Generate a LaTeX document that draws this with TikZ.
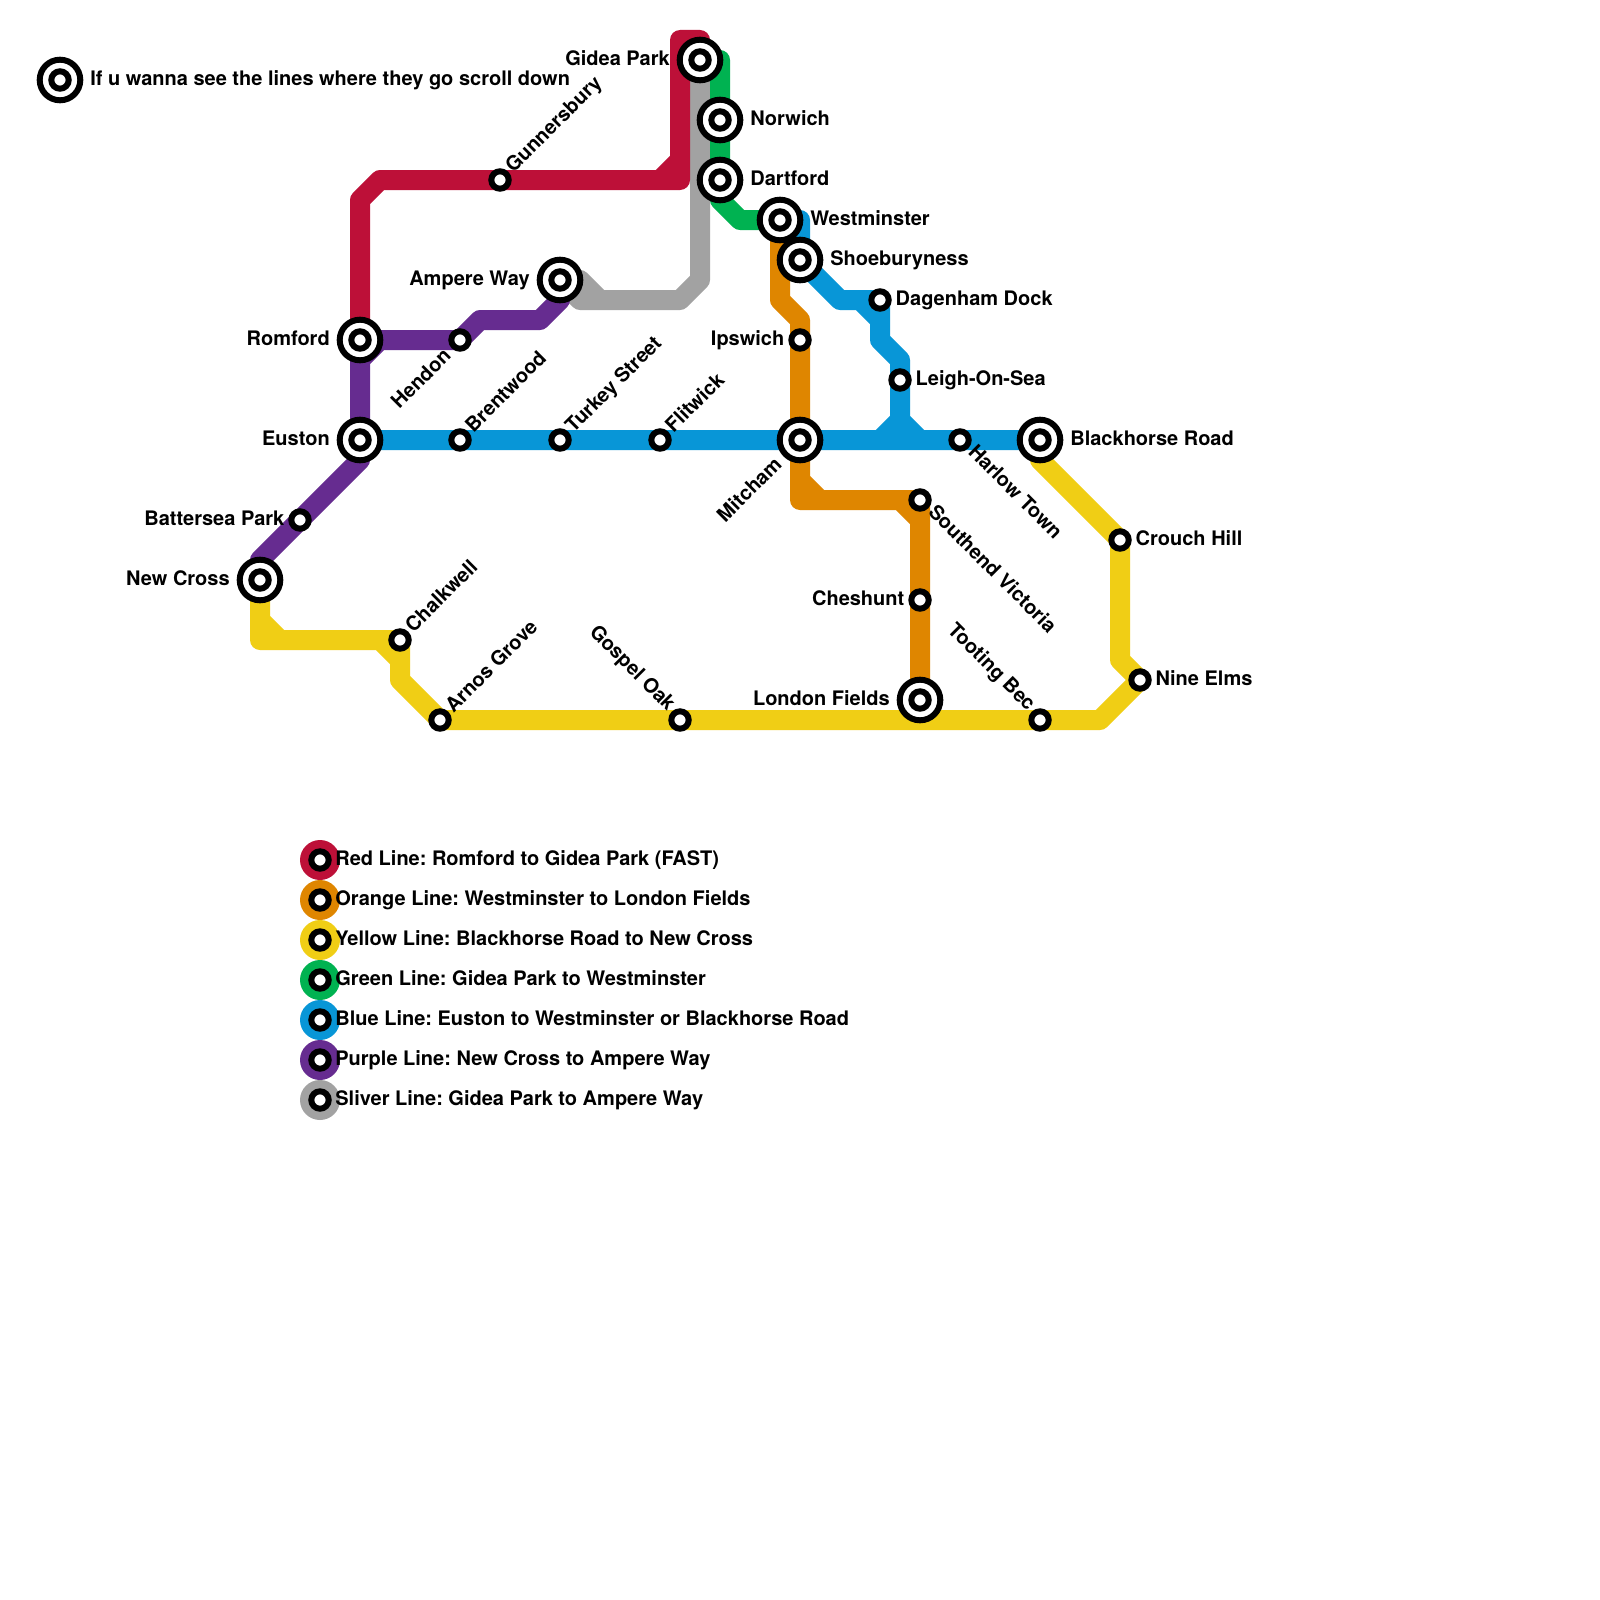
\documentclass[tikz,border=0pt]{standalone}
\usepackage{fontspec}
\setmainfont{TeX Gyre Heros}
\usetikzlibrary{positioning, backgrounds}
\definecolor{lred}{HTML}{BD1038}
\definecolor{lorange}{HTML}{DF8600}
\definecolor{lyellow}{HTML}{F0CE15}
\definecolor{lgreen}{HTML}{00B251}
\definecolor{lblue}{HTML}{0896D7}
\definecolor{lpurple}{HTML}{662C90}
\definecolor{lsilver}{HTML}{A2A2A2}
\tikzset{
node distance=2pt, % gap between a station and its name
metro/.style={line width=10pt, line join=round, line cap=round}, % every line of the map
stop/.style={circle, draw=black, fill=white, line width=3pt, inner sep=0pt, minimum size=8.7pt},
hub/.style={circle, draw=black, fill=white, line width=3pt, inner sep=0pt, minimum size=20.3pt, outer sep=3pt,
  path picture={\draw[line width=3pt, fill=white] (path picture bounding box.center) circle (4.35pt);}},
key/.style={circle, fill=#1, inner sep=0pt, minimum size=20pt,
  path picture={\draw[line width=3pt, fill=white] (path picture bounding box.center) circle (4.35pt);}},
tag/.style={font=\bfseries\frenchspacing, inner sep=0pt, outer sep=0pt, text height=7.8pt, text depth=2.2pt},
tagup/.style={tag, rotate=45, anchor=west, xshift=7.15pt, yshift=0.27pt},
tagdown/.style={tag, rotate=-45, anchor=west, xshift=7.3pt, yshift=0.65pt},
tagupend/.style={tag, rotate=45, anchor=east, xshift=-8.9pt, yshift=-0.52pt},
tagdownend/.style={tag, rotate=-45, anchor=east, xshift=-7.43pt, yshift=1.2pt},
}
\begin{document}
\begin{tikzpicture}[x=10pt, y=-10pt]
    \node[hub] (Key) at (3,4) {};
    \node[hub] (GideaPark) at (35,3) {};
    \node[hub] (Norwich) at (36,6) {};
    \node[hub] (Dartford) at (36,9) {};
    \node[hub] (Westminster) at (39,11) {};
    \node[hub] (Shoeburyness) at (40,13) {};
    \node[hub] (AmpereWay) at (28,14) {};
    \node[hub] (Romford) at (18,17) {};
    \node[hub] (Euston) at (18,22) {};
    \node[hub] (Mitcham) at (40,22) {};
    \node[hub] (Blackhorse) at (52,22) {};
    \node[hub] (NewCross) at (13,29) {};
    \node[hub] (LondonFields) at (46,35) {};
    \node[stop] (Gunnersbury) at (25,9) {};
    \node[stop] (Dagenham) at (44,15) {};
    \node[stop] (Hendon) at (23,17) {};
    \node[stop] (Ipswich) at (40,17) {};
    \node[stop] (Leigh) at (45,19) {};
    \node[stop] (Brentwood) at (23,22) {};
    \node[stop] (Turkey) at (28,22) {};
    \node[stop] (Flitwick) at (33,22) {};
    \node[stop] (Harlow) at (48,22) {};
    \node[stop] (Southend) at (46,25) {};
    \node[stop] (Battersea) at (15,26) {};
    \node[stop] (Crouch) at (56,27) {};
    \node[stop] (Cheshunt) at (46,30) {};
    \node[stop] (Chalkwell) at (20,32) {};
    \node[stop] (NineElms) at (57,34) {};
    \node[stop] (Arnos) at (22,36) {};
    \node[stop] (GospelOak) at (34,36) {};
    \node[stop] (Tooting) at (52,36) {};

    \node[tag, right=of Key] (KeyTag) {If u wanna see the lines where they go scroll down};
    \node[tag, left=of GideaPark] (GideaParkTag) {Gidea Park};
    \node[tag, right=of Norwich] (NorwichTag) {Norwich};
    \node[tag, right=of Dartford] (DartfordTag) {Dartford};
    \node[tag, right=of Westminster] (WestminsterTag) {Westminster};
    \node[tag, right=of Shoeburyness] (ShoeburynessTag) {Shoeburyness};
    \node[tag, left=of AmpereWay] (AmpereWayTag) {Ampere Way};
    \node[tag, left=of Romford] (RomfordTag) {Romford};
    \node[tag, left=of Euston] (EustonTag) {Euston};
    \node[tag, right=of Blackhorse] (BlackhorseTag) {Blackhorse Road};
    \node[tag, left=of NewCross] (NewCrossTag) {New Cross};
    \node[tag, left=of LondonFields] (LondonFieldsTag) {London Fields};
    \node[tag, right=of Dagenham] (DagenhamTag) {Dagenham Dock};
    \node[tag, left=of Ipswich] (IpswichTag) {Ipswich};
    \node[tag, right=of Leigh] (LeighTag) {Leigh-On-Sea};
    \node[tag, left=of Battersea] (BatterseaTag) {Battersea Park};
    \node[tag, right=of Crouch] (CrouchTag) {Crouch Hill};
    \node[tag, left=of Cheshunt] (CheshuntTag) {Cheshunt};
    \node[tag, right=of NineElms] (NineElmsTag) {Nine Elms};
    \node[tagup] (GunnersburyTag) at (Gunnersbury) {Gunnersbury};
    \node[tagup] (BrentwoodTag) at (Brentwood) {Brentwood};
    \node[tagup] (TurkeyTag) at (Turkey) {Turkey Street};
    \node[tagup] (FlitwickTag) at (Flitwick) {Flitwick};
    \node[tagup] (ChalkwellTag) at (Chalkwell) {Chalkwell};
    \node[tagup] (ArnosTag) at (Arnos) {Arnos Grove};
    \node[tagdown] (HarlowTag) at (Harlow) {Harlow Town};
    \node[tagdown] (SouthendTag) at (Southend) {Southend Victoria};
    \node[tagupend] (HendonTag) at (Hendon) {Hendon};
    \node[tagupend, xshift=-6.3pt, yshift=0.27pt] (MitchamTag) at (Mitcham) {Mitcham};
    \node[tagdownend] (GospelOakTag) at (GospelOak) {Gospel Oak};
    \node[tagdownend] (TootingTag) at (Tooting) {Tooting Bec};

    \node[key=lred] (RedKey) at (16,43) {};
    \node[key=lorange] (OrangeKey) at (16,45) {};
    \node[key=lyellow] (YellowKey) at (16,47) {};
    \node[key=lgreen] (GreenKey) at (16,49) {};
    \node[key=lblue] (BlueKey) at (16,51) {};
    \node[key=lpurple] (PurpleKey) at (16,53) {};
    \node[key=lsilver] (SilverKey) at (16,55) {};
    \node[tag, right=-2.5pt of RedKey] (RedTag) {Red Line: Romford to Gidea Park (FAST)};
    \node[tag, right=-2.5pt of OrangeKey] (OrangeTag) {Orange Line: Westminster to London Fields};
    \node[tag, right=-2.5pt of YellowKey] (YellowTag) {Yellow Line: Blackhorse Road to New Cross};
    \node[tag, right=-2.5pt of GreenKey] (GreenTag) {Green Line: Gidea Park to Westminster};
    \node[tag, right=-2.5pt of BlueKey] (BlueTag) {Blue Line: Euston to Westminster or Blackhorse Road};
    \node[tag, right=-2.5pt of PurpleKey] (PurpleTag) {Purple Line: New Cross to Ampere Way};
    \node[tag, right=-2.5pt of SilverKey] (SilverTag) {Sliver Line: Gidea Park to Ampere Way};

    \begin{scope}[on background layer]
    \path[use as bounding box, fill=white] (0,0) rectangle (80,80);
    \draw[metro, lsilver] (GideaPark.center) -- (35,14) -- (34,15) -- (29,15) -- (AmpereWay.center)
          (30,15) -- (29,14);
    \draw[metro, lred] (Romford.center) -- (18,10) -- (19,9) -- (Gunnersbury.center) -- (34,9) -- (34,2) -- (35,2) -- (GideaPark.center)
          (33,9) -- (34,8);
    \draw[metro, lgreen] (GideaPark.center) -- (36,3) -- (Norwich.center) -- (Dartford.center) -- (36,10) -- (37,11) -- (Westminster.center);
    \draw[metro, lorange] (Westminster.center) -- (39,15) -- (40,16) -- (Ipswich.center) -- (Mitcham.center) -- (40,25) -- (Southend.center) -- (Cheshunt.center) -- (LondonFields.center)
          (40,24) -- (41,25)
          (45,25) -- (46,26);
    \draw[metro, lblue] (Euston.center) -- (Brentwood.center) -- (Turkey.center) -- (Flitwick.center) -- (Mitcham.center) -- (Harlow.center) -- (Blackhorse.center)
          (Westminster.center) -- (40,11) -- (Shoeburyness.center) -- (42,15) -- (Dagenham.center) -- (44,17) -- (45,18) -- (Leigh.center) -- (45,22)
          (43,15) -- (44,16)
          (44,22) -- (45,21) -- (46,22);
    \draw[metro, lpurple] (Romford.center) -- (Euston.center) -- (18,23) -- (Battersea.center) -- (13,28) -- (NewCross.center)
          (Romford.center) -- (Hendon.center) -- (24,16) -- (27,16) -- (28,15) -- (AmpereWay.center)
          (19,17) -- (18,18);
    \draw[metro, lyellow] (Blackhorse.center) -- (52,23) -- (Crouch.center) -- (56,33) -- (NineElms.center) -- (55,36) -- (Tooting.center) -- (GospelOak.center) -- (Arnos.center) -- (20,34) -- (Chalkwell.center) -- (13,32) -- (NewCross.center)
          (13,31) -- (14,32)
          (19,32) -- (20,33);
    \end{scope}
 \end{tikzpicture}
\end{document}
